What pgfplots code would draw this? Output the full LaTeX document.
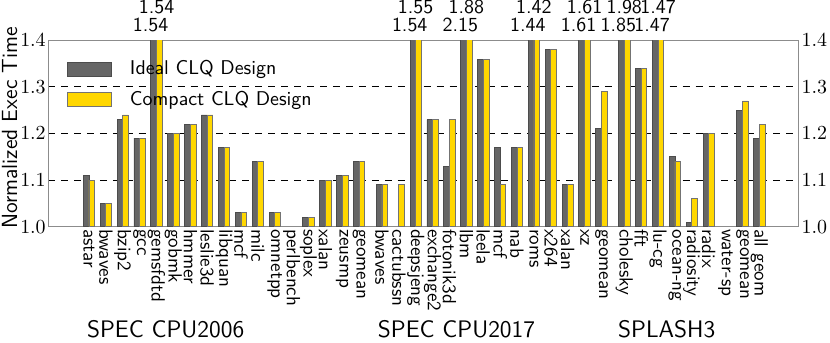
\documentclass[border=0pt]{standalone}
\usepackage{pgfplots}
\usepackage{pgfplotstable}
\pgfplotsset{compat=1.18}

\definecolor{idealgray}{HTML}{666666}
\definecolor{compactgold}{HTML}{FFD700}

% x: category position (small extra gap between benchmark suites)
\pgfplotstableread{
x ideal compact
0 1.11 1.10
1 1.05 1.05
2 1.23 1.24
3 1.19 1.19
4 1.54 1.54
5 1.20 1.20
6 1.22 1.22
7 1.24 1.24
8 1.17 1.17
9 1.03 1.03
10 1.14 1.14
11 1.03 1.03
12 nan nan
13 1.02 1.02
14 1.10 1.10
15 1.11 1.11
16 1.14 1.14
17.35 1.09 1.09
18.35 nan 1.09
19.35 1.54 1.55
20.35 1.23 1.23
21.35 1.13 1.23
22.35 2.15 1.88
23.35 1.36 1.36
24.35 1.17 1.09
25.35 1.17 1.17
26.35 1.44 1.42
27.35 1.38 1.38
28.35 1.09 1.09
29.35 1.61 1.61
30.35 1.21 1.29
31.7 1.85 1.98
32.7 1.34 1.34
33.7 1.47 1.47
34.7 1.15 1.14
35.7 1.01 1.06
36.7 1.20 1.20
37.7 nan nan
38.7 1.25 1.27
39.7 1.19 1.22
}\benchdata

\pgfplotsset{
  chartbase/.style={
    scale only axis,
    width=376.5pt, height=93.5pt,
    xmin=-2.42, xmax=42,
    ymin=1.0, ymax=1.4,
    ytick={1.0,1.1,1.2,1.3,1.4},
    yticklabel={\pgfmathprintnumber[fixed,fixed zerofill,precision=1]{\tick}},
    major tick length=0pt,
  },
  barleg/.style={legend image code/.code={\draw[##1] (0pt,-3.5pt) rectangle (22pt,3.5pt);}},
}

\begin{document}
\begin{tikzpicture}
\begin{axis}[
    chartbase,
    clip mode=individual,
    ybar=0pt, bar width=2.85pt,
    axis line style={black!45},
    xtick pos=bottom, ytick pos=left,
    xtick={0,1,2,3,4,5,6,7,8,9,10,11,12,13,14,15,16,
           17.35,18.35,19.35,20.35,21.35,22.35,23.35,24.35,25.35,26.35,27.35,28.35,29.35,30.35,
           31.7,32.7,33.7,34.7,35.7,36.7,37.7,38.7,39.7},
    xticklabels={astar,bwaves,bzip2,gcc,gemsfdtd,gobmk,hmmer,leslie3d,libquan,mcf,milc,omnetpp,perlbench,soplex,xalan,zeusmp,geomean,
                 bwaves,cactubssn,deepsjeng,exchange2,fotonik3d,lbm,leela,mcf,nab,roms,x264,xalan,xz,geomean,
                 cholesky,fft,lu-cg,ocean-ng,radiosity,radix,water-sp,geomean,all geom},
    xticklabel style={rotate=-90, anchor=west, inner sep=1pt, font=\sffamily\fontsize{9.6}{11}\selectfont},
    yticklabel style={inner sep=1pt},
    ymajorgrids,
    major grid style={black, dash pattern=on 3.5pt off 3pt, line width=0.5pt},
    ylabel={Normalized Exec Time},
    ylabel style={at={(axis description cs:-0.0412,0.53)}, anchor=base, rotate=0, inner sep=1pt,
                  font=\sffamily\fontsize{11}{13}\selectfont},
    legend style={at={(axis description cs:0.0252,0.895)}, anchor=north west, draw=none, fill=none,
                  font=\sffamily, inner sep=0pt, row sep=6.75pt,
                  nodes={inner sep=0pt}, column sep=9pt},
    legend cell align=left,
]
\addplot[fill=idealgray, draw=black!70, line width=0.4pt, barleg] table[x=x, y=ideal] {\benchdata};
\addlegendentry{Ideal CLQ Design}
\addplot[fill=compactgold, draw=black!55, line width=0.4pt, barleg] table[x=x, y=compact] {\benchdata};
\addlegendentry{Compact CLQ Design}

% values of clipped bars: lower row ideal, upper row compact
\begin{scope}[every node/.style={anchor=base, font=\sffamily, inner sep=0pt}]
\node[xshift=-3pt, yshift=4.5pt] at (axis cs:4,1.4) {1.54};
\node[yshift=13.5pt] at (axis cs:4,1.4) {1.54};
\node[xshift=-3pt, yshift=4.5pt] at (axis cs:19.35,1.4) {1.54};
\node[yshift=13.5pt] at (axis cs:19.35,1.4) {1.55};
\node[xshift=-3pt, yshift=4.5pt] at (axis cs:22.35,1.4) {2.15};
\node[yshift=13.5pt] at (axis cs:22.35,1.4) {1.88};
\node[xshift=-3pt, yshift=4.5pt] at (axis cs:26.35,1.4) {1.44};
\node[yshift=13.5pt] at (axis cs:26.35,1.4) {1.42};
\node[xshift=-3pt, yshift=4.5pt] at (axis cs:29.35,1.4) {1.61};
\node[yshift=13.5pt] at (axis cs:29.35,1.4) {1.61};
\node[xshift=-3pt, yshift=4.5pt] at (axis cs:31.7,1.4) {1.85};
\node[yshift=13.5pt] at (axis cs:31.7,1.4) {1.98};
\node[xshift=-3pt, yshift=4.5pt] at (axis cs:33.7,1.4) {1.47};
\node[yshift=13.5pt] at (axis cs:33.7,1.4) {1.47};
\end{scope}

\begin{scope}[every node/.style={anchor=base, font=\sffamily\large, inner sep=2.5pt}]
\node[yshift=-55.5pt] at (axis description cs:0.1567,0) {SPEC CPU2006};
\node[yshift=-55.5pt] at (axis description cs:0.5445,0) {SPEC CPU2017};
\node[yshift=-55.5pt] at (axis description cs:0.8247,0) {SPLASH3};
\end{scope}
\end{axis}

% right-hand tick labels
\begin{axis}[
    chartbase,
    hide x axis,
    axis y line*=right,
    y axis line style={draw=none},
    yticklabel style={inner sep=1.5pt},
]
\end{axis}
\end{tikzpicture}
\end{document}
